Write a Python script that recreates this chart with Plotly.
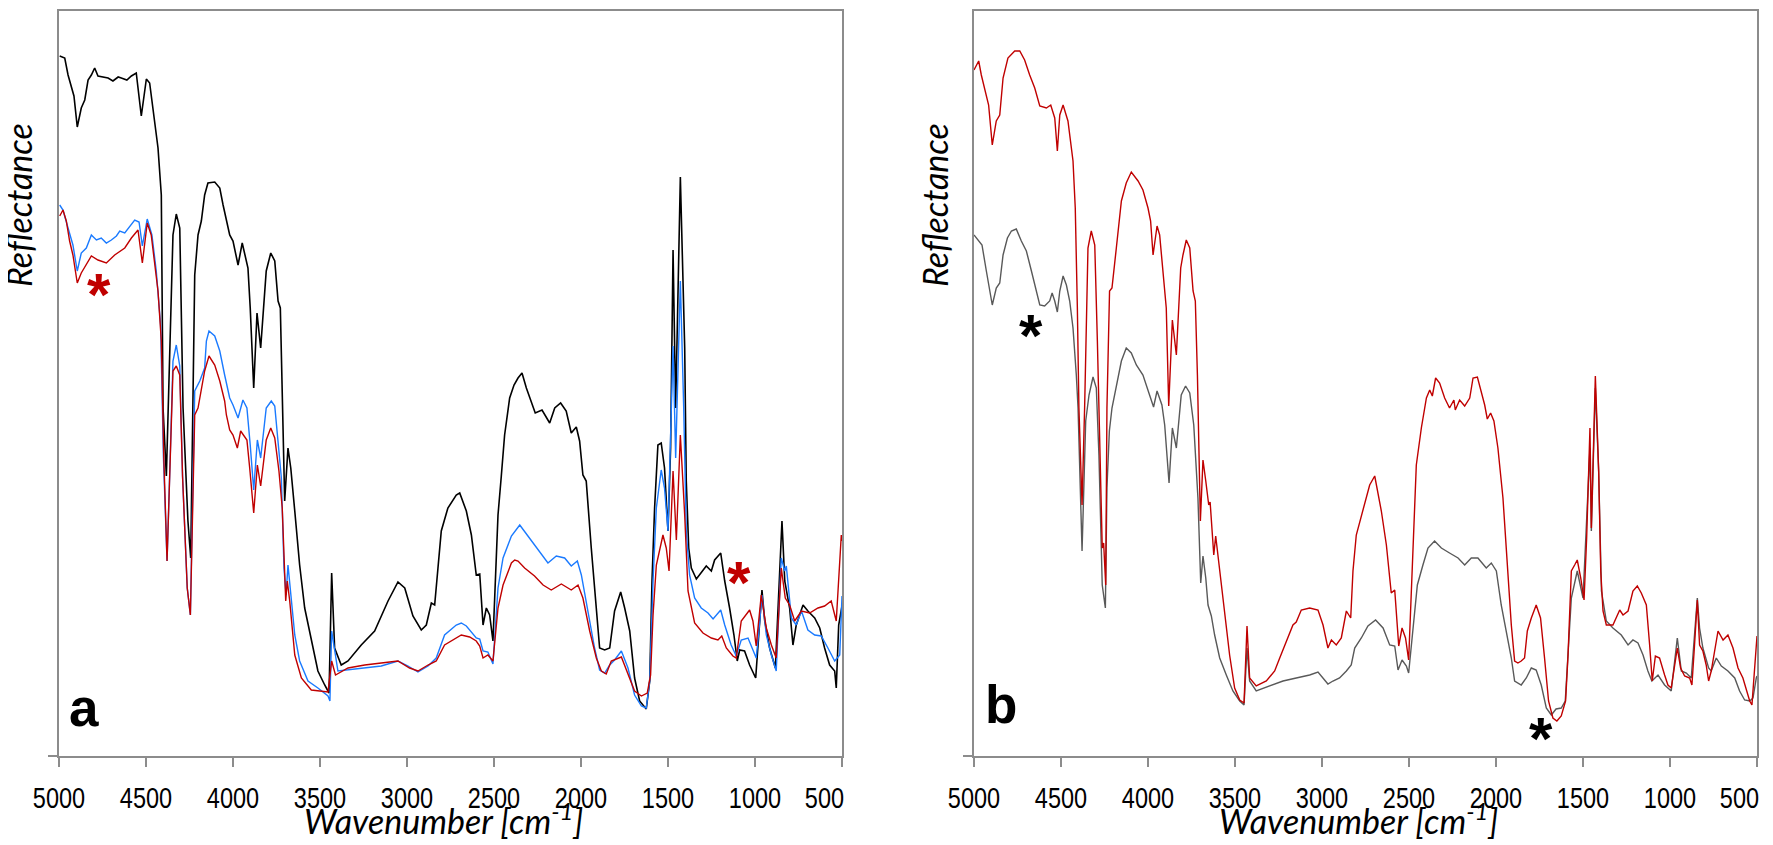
import plotly.graph_objects as go

# ---------------- data (wavenumber cm-1, reflectance arbitrary units) ----------------
a_black_wn = [4996,4967,4948,4929,4914,4895,4872,4852,4833,4814,4795,4776,4747,4718,4690,4660,4642,4610,4584,4556,
              4527,4498,4479,4450,4431,4412,4402,4383,4364,4345,4326,4306,4287,4259,4243,4230,4220,4201,4182,4163,
              4144,4105,4076,4057,4019,4000,3971,3947,3914,3901,3881,3862,3841,3809,3783,3760,3741,3728,3713,3703,
              3684,3668,3645,3617,3588,3550,3512,3473,3448,3433,3416,3378,3339,3263,3186,3109,3052,3013,2966,2918,
              2889,2860,2841,2822,2803,2765,2717,2697,2659,2630,2602,2582,2563,2544,2525,2506,2477,2458,2439,2410,
              2385,2362,2339,2314,2286,2263,2224,2180,2151,2117,2085,2056,2027,2008,1989,1970,1941,1912,1893,1864,
              1835,1807,1772,1749,1720,1692,1663,1625,1605,1592,1577,1558,1539,1520,1500,1485,1471,1456,1429,1404,
              1395,1381,1366,1337,1299,1280,1251,1232,1197,1174,1146,1121,1102,1088,1060,1031,996,973,960,944,
              916,883,864,845,829,801,782,763,724,696,657,628,600,571,542,533,519,508,500]
a_black_r = [70.0,69.8,68.1,66.8,66.0,62.9,64.8,65.6,67.6,68.1,68.8,68.0,67.9,67.8,67.5,67.9,67.8,67.6,68.0,68.3,
             64.0,67.7,67.3,63.1,60.8,56.1,34.8,28.0,41.5,52.1,54.2,52.8,34.8,23.5,19.8,38.8,48.1,52.1,53.5,56.1,
             57.3,57.4,56.8,55.1,52.1,51.5,49.1,51.3,48.8,44.8,36.8,44.3,40.8,48.5,50.3,49.5,45.5,44.8,34.8,25.5,
             30.8,28.8,24.5,19.1,14.8,11.5,8.5,7.1,6.3,18.3,10.8,9.1,9.5,11.1,12.5,15.5,17.4,16.8,14.0,12.6,
             13.1,15.3,15.1,18.8,22.5,24.8,26.1,26.3,24.5,22.1,18.1,18.2,13.1,14.8,14.1,11.5,24.1,28.0,32.1,35.8,
             37.1,37.8,38.3,36.8,35.5,34.3,34.6,33.3,34.8,35.3,34.5,32.3,32.9,31.5,28.1,27.5,20.8,14.8,10.8,10.6,
             10.8,14.5,16.4,14.8,12.5,7.8,5.5,4.7,7.5,17.5,24.8,31.1,31.3,28.8,22.5,30.8,50.6,34.8,57.9,40.8,
             27.5,20.8,18.8,17.7,18.5,19.0,18.5,19.6,20.3,17.5,14.8,12.1,9.5,10.6,10.5,9.1,7.8,13.1,16.6,13.5,
             10.8,8.8,16.8,23.5,17.5,14.8,11.1,13.1,15.1,14.5,13.8,12.8,10.8,9.1,8.5,6.8,13.1,14.1,15.0]

a_blue_wn = [4996,4977,4948,4920,4895,4872,4843,4814,4785,4757,4728,4699,4670,4651,4622,4594,4565,4540,4521,4493,
             4466,4441,4416,4400,4379,4364,4345,4326,4306,4290,4263,4245,4232,4220,4191,4163,4153,4138,4105,4076,
             4048,4019,4000,3971,3943,3920,3901,3881,3860,3841,3809,3780,3760,3741,3722,3707,3695,3684,3668,3645,
             3617,3569,3512,3454,3443,3433,3397,3339,3243,3148,3052,2994,2937,2879,2832,2784,2717,2688,2659,2602,
             2582,2563,2535,2506,2477,2448,2400,2352,2305,2247,2190,2142,2094,2056,2021,1998,1960,1922,1893,1864,
             1835,1807,1768,1730,1692,1653,1625,1605,1586,1567,1539,1520,1500,1471,1456,1429,1410,1395,1376,1347,
             1309,1270,1241,1197,1174,1137,1108,1079,1040,1012,993,973,960,935,906,878,849,829,820,791,
             763,733,696,657,619,581,542,513,500]
a_blue_r = [55.1,54.6,52.8,51.1,48.5,50.3,50.8,52.1,51.6,51.8,51.3,51.6,52.0,52.5,52.3,53.0,53.6,53.4,51.0,53.7,
            52.1,48.5,43.1,30.0,19.5,28.0,39.5,41.1,39.0,28.0,16.8,14.1,25.0,36.5,37.5,38.8,41.5,42.5,42.0,40.5,
            38.1,35.8,35.1,33.8,35.6,34.8,31.1,26.6,31.6,29.8,34.8,35.5,35.0,31.5,27.8,18.8,16.1,19.1,16.1,12.1,
            9.5,7.5,6.8,6.0,5.5,12.5,8.5,8.6,8.8,9.0,9.5,9.0,8.4,9.0,9.8,12.1,13.1,13.3,13.0,11.8,
            11.7,10.5,10.4,9.2,16.8,19.8,22.0,23.1,22.0,20.6,19.3,20.0,19.8,19.0,19.5,18.1,14.5,10.8,8.6,8.3,
            9.1,9.6,10.5,8.8,6.1,5.0,4.8,7.5,17.5,24.8,28.6,26.8,22.5,41.0,29.8,47.5,35.0,22.5,18.1,15.8,
            14.8,14.3,13.7,14.6,13.1,11.1,10.0,11.6,11.8,10.5,9.8,13.4,16.1,12.1,10.1,8.5,19.8,18.5,19.0,13.8,
            13.1,14.5,12.6,12.1,12.0,10.8,9.5,10.1,16.0]

a_red_wn = [4996,4977,4958,4939,4920,4895,4872,4843,4814,4776,4728,4680,4622,4584,4546,4521,4493,4470,4450,4431,
            4412,4398,4379,4364,4345,4326,4306,4290,4263,4245,4232,4220,4201,4182,4163,4138,4105,4076,4048,4038,
            4019,4000,3975,3956,3920,3904,3881,3860,3841,3809,3783,3760,3736,3717,3703,3697,3688,3674,3645,3607,
            3550,3493,3454,3433,3411,3339,3243,3148,3052,2985,2937,2879,2832,2784,2717,2688,2640,2602,2582,2563,
            2535,2506,2477,2448,2400,2381,2362,2324,2267,2218,2171,2113,2056,2017,1989,1950,1912,1883,1855,1826,
            1768,1730,1692,1653,1619,1600,1586,1567,1529,1510,1494,1471,1452,1429,1404,1385,1347,1299,1251,1213,
            1191,1165,1127,1108,1079,1031,1012,993,964,935,906,878,849,826,801,772,733,686,638,600,
            562,533,504,500]
a_red_r = [54.0,54.6,53.5,51.5,50.1,47.3,48.3,49.1,50.0,49.6,49.3,50.1,50.8,51.8,52.6,49.3,53.3,52.1,49.5,46.5,
           41.5,30.0,19.5,28.0,38.5,39.0,38.1,28.0,16.8,14.1,24.0,34.1,34.8,36.8,38.5,40.0,39.1,37.5,35.5,34.1,
           32.6,32.1,30.8,32.5,31.6,28.8,24.3,29.1,27.0,31.6,32.8,31.8,28.5,24.8,18.1,15.5,17.5,15.5,10.1,7.8,
           6.6,6.5,6.4,9.5,8.1,8.8,9.1,9.3,9.5,8.8,8.5,9.1,9.5,11.1,11.8,12.1,11.9,11.5,11.0,9.8,
           10.1,9.5,14.8,17.1,19.3,19.6,19.5,18.8,18.0,17.1,16.6,17.2,16.6,17.1,15.8,12.5,9.8,8.5,8.2,9.5,
           9.9,8.1,6.5,6.0,6.3,8.1,14.1,19.1,22.1,20.8,18.5,28.5,21.6,32.1,24.1,16.5,13.3,12.3,11.8,11.6,
           12.0,10.8,10.0,9.8,13.5,14.6,13.5,11.0,16.1,12.8,11.1,9.8,18.8,15.8,15.1,13.5,14.5,14.3,14.8,15.0,
           15.5,13.5,22.1,21.5]

b_red_wn = [5000,4973,4958,4929,4916,4895,4872,4852,4833,4805,4766,4737,4709,4680,4651,4622,4584,4559,4536,4521,
            4507,4488,4460,4431,4418,4406,4397,4379,4364,4345,4326,4306,4291,4263,4255,4243,4236,4221,4207,4182,
            4153,4125,4096,4057,4029,4000,3985,3971,3948,3933,3914,3895,3881,3860,3837,3812,3799,3780,3760,3741,
            3728,3716,3699,3684,3668,3651,3643,3622,3611,3588,3559,3531,3502,3473,3448,3431,3416,3378,3320,3272,
            3243,3205,3167,3148,3119,3071,3023,2994,2966,2946,2918,2889,2860,2835,2822,2803,2765,2726,2697,2659,
            2630,2602,2582,2559,2540,2520,2502,2477,2458,2429,2400,2381,2366,2347,2324,2295,2267,2242,2234,2209,
            2180,2151,2132,2107,2084,2065,2050,2031,2012,1989,1960,1935,1912,1893,1874,1855,1836,1820,1797,1769,
            1744,1721,1698,1673,1650,1625,1600,1586,1567,1548,1533,1513,1494,1479,1460,1452,1429,1410,1398,1385,
            1366,1328,1309,1289,1270,1241,1213,1188,1165,1136,1117,1102,1084,1060,1031,1012,993,973,958,939,
            916,887,874,859,843,830,811,792,778,763,743,724,695,667,638,609,581,561,542,529,
            513,504,500]
b_red_r = [68.6,69.5,68.1,65.8,65.1,61.1,63.5,64.1,67.8,69.8,70.5,70.5,69.6,68.1,66.8,65.0,64.8,65.1,63.8,60.5,
           64.1,65.1,63.5,59.5,54.8,44.8,34.8,25.1,35.0,50.8,52.5,51.1,41.5,20.8,21.3,17.1,34.8,46.5,46.8,50.8,
           55.5,57.3,58.4,57.5,56.6,54.8,53.5,50.1,53.0,52.1,48.8,44.8,35.0,43.6,40.1,48.8,50.1,51.6,50.8,46.5,
           45.5,38.1,23.5,29.6,27.5,25.1,25.4,20.1,22.0,18.5,14.5,10.1,6.8,5.6,5.3,13.0,7.8,7.0,7.5,8.5,
           9.8,11.5,13.1,13.4,14.6,14.8,14.6,13.1,10.8,11.6,11.1,11.8,14.5,13.8,18.5,22.1,24.5,27.1,28.0,24.5,
           21.1,16.3,16.6,11.0,12.8,11.8,9.6,20.1,29.1,32.8,35.8,36.6,36.0,37.8,37.3,35.8,34.8,35.6,34.6,35.6,
           35.0,35.8,37.8,37.9,36.5,35.1,33.7,34.3,33.5,30.8,25.8,19.1,13.1,9.5,9.3,9.5,9.8,12.5,13.8,15.1,
           13.8,9.8,5.5,3.8,3.5,4.0,5.5,10.1,18.5,19.1,19.6,17.8,15.6,21.8,32.8,22.8,38.0,28.5,18.5,14.5,
           13.1,13.1,13.8,14.6,14.1,14.5,16.5,17.0,16.3,15.1,11.1,7.5,10.0,9.8,8.1,7.1,6.8,9.1,10.8,8.8,
           8.0,7.8,7.1,11.1,15.6,11.1,10.5,9.1,7.5,8.5,10.5,12.5,11.6,12.1,10.8,8.8,7.8,6.5,5.5,5.1,
           9.1,11.3,12.0]

b_grey_wn = [5000,4977,4954,4929,4910,4895,4872,4852,4833,4808,4785,4757,4728,4699,4670,4642,4622,4594,4565,4551,
             4536,4521,4507,4488,4469,4450,4431,4412,4402,4379,4358,4339,4316,4297,4282,4263,4245,4236,4222,4207,
             4182,4153,4125,4096,4067,4029,3991,3968,3948,3920,3904,3879,3860,3837,3809,3784,3760,3737,3713,3697,
             3684,3668,3655,3636,3617,3588,3550,3512,3473,3448,3431,3416,3378,3301,3224,3148,3071,3023,2994,2966,
             2937,2899,2860,2832,2812,2774,2736,2692,2649,2611,2582,2563,2540,2515,2502,2477,2452,2420,2391,2353,
             2314,2267,2218,2180,2142,2104,2056,2027,1998,1970,1941,1912,1893,1855,1826,1797,1769,1740,1711,1682,
             1655,1625,1602,1586,1567,1533,1500,1460,1452,1429,1410,1394,1366,1328,1280,1241,1213,1184,1155,1127,
             1104,1069,1031,993,958,935,906,878,859,843,830,811,778,763,734,705,667,628,600,571,
             542,523,504,500]
b_grey_r = [52.1,51.6,51.1,48.5,46.5,45.1,46.8,47.3,50.1,51.8,52.5,52.7,51.5,50.5,48.5,46.5,45.1,45.0,45.5,46.3,
            45.5,44.4,46.5,48.0,47.1,45.5,42.8,38.1,34.8,20.5,33.5,36.1,37.9,36.8,30.1,17.1,14.8,26.8,32.5,34.8,
            37.1,39.5,40.8,40.3,39.1,38.1,36.1,34.9,36.5,35.1,33.1,27.3,32.8,30.8,36.1,37.0,36.3,33.1,25.8,17.3,
            20.0,17.8,15.1,14.0,12.1,9.8,8.1,6.5,5.5,5.1,10.8,7.5,6.5,7.0,7.5,7.8,8.1,8.4,7.8,7.2,
            7.5,7.8,8.5,9.1,10.8,11.8,13.0,13.6,12.8,11.1,11.0,8.6,9.6,9.0,8.3,13.1,17.1,19.1,20.8,21.5,
            20.8,20.3,19.8,19.1,19.8,19.8,18.8,19.3,18.5,15.1,12.5,9.8,7.5,7.1,7.8,8.8,8.6,7.1,4.8,4.1,
            4.7,4.8,5.5,10.1,15.8,18.5,15.8,30.8,22.5,36.8,28.5,16.5,13.5,12.8,12.1,11.1,11.6,11.3,10.1,8.5,
            7.5,8.1,7.1,6.5,11.8,8.5,8.3,7.8,11.8,15.8,12.8,10.8,8.8,8.5,9.8,9.0,8.5,7.8,6.5,5.6,
            5.5,5.8,7.8,8.0]

x_tick_vals = [5000, 4500, 4000, 3500, 3000, 2500, 2000, 1500, 1000, 500]
x_tick_text = ["5000", "4500", "4000", "3500", "3000", "2500", "2000", "1500", "1000", "500"]

# ---------------- figure ----------------
W, H = 1773, 845
RED = "#c00000"
BLUE = "#1a7aff"
GREY = "#595959"
FRAME = "#8c8c8c"

fig = go.Figure()
fig.add_trace(go.Scatter(x=a_black_wn, y=a_black_r, mode="lines", line=dict(color="black", width=1.6),
                         xaxis="x", yaxis="y", showlegend=False, hoverinfo="skip"))
fig.add_trace(go.Scatter(x=a_blue_wn, y=a_blue_r, mode="lines", line=dict(color=BLUE, width=1.4),
                         xaxis="x", yaxis="y", showlegend=False, hoverinfo="skip"))
fig.add_trace(go.Scatter(x=a_red_wn, y=a_red_r, mode="lines", line=dict(color=RED, width=1.4),
                         xaxis="x", yaxis="y", showlegend=False, hoverinfo="skip"))
fig.add_trace(go.Scatter(x=b_grey_wn, y=b_grey_r, mode="lines", line=dict(color=GREY, width=1.4),
                         xaxis="x2", yaxis="y2", showlegend=False, hoverinfo="skip"))
fig.add_trace(go.Scatter(x=b_red_wn, y=b_red_r, mode="lines", line=dict(color=RED, width=1.4),
                         xaxis="x2", yaxis="y2", showlegend=False, hoverinfo="skip"))

ydom = [(H - 748) / H, (H - 3) / H]
xdom1 = [51 / W, 834 / W]
xdom2 = [966 / W, 1749 / W]

tickfont = dict(family="Liberation Sans, Arial, sans-serif", size=29, color="black")

def xaxis_cfg(dom, anchor):
    return dict(domain=dom, anchor=anchor, range=[5000, 500], tickmode="array",
                tickvals=x_tick_vals, ticktext=x_tick_text, ticks="outside", ticklen=9,
                tickwidth=1.5, tickcolor=FRAME, showline=True, linecolor=FRAME, linewidth=2,
                mirror=True, showgrid=False, zeroline=False, tickfont=tickfont, automargin=False,
                ticklabeloverflow="allow", ticklabelstandoff=6)

def yaxis_cfg(anchor):
    return dict(domain=ydom, anchor=anchor, range=[0, 74.5], tickmode="array", tickvals=[0],
                ticks="outside", ticklen=9, tickwidth=1.5, tickcolor=FRAME, showticklabels=False,
                showline=True, linecolor=FRAME, linewidth=2, mirror=True, showgrid=False,
                zeroline=False, automargin=False)

title_font = dict(family="Lato, Open Sans, sans-serif", size=34, color="black")
letter_font = dict(family="Liberation Sans, Arial, sans-serif", size=53, color="black")
star_font_red = dict(family="Liberation Sans, Arial, sans-serif", size=60, color=RED)
star_font_blk = dict(family="Liberation Sans, Arial, sans-serif", size=60, color="black")

def px(x):
    return x / W

def py(y):
    return (H - y) / H

annotations = [
    dict(text="<i>Reflectance</i>", x=px(10), y=py(197), xref="paper", yref="paper", textangle=-90,
         showarrow=False, font=title_font, xanchor="center", yanchor="middle"),
    dict(text="<i>Reflectance</i>", x=px(926), y=py(197), xref="paper", yref="paper", textangle=-90,
         showarrow=False, font=title_font, xanchor="center", yanchor="middle"),
    dict(text="<i>Wavenumber [cm<sup>-1</sup>]</i>", x=px(435), y=py(811), xref="paper", yref="paper",
         showarrow=False, font=title_font, xanchor="center", yanchor="middle"),
    dict(text="<i>Wavenumber [cm<sup>-1</sup>]</i>", x=px(1350), y=py(811), xref="paper", yref="paper",
         showarrow=False, font=title_font, xanchor="center", yanchor="middle"),
    dict(text="<b>a</b>", x=px(76), y=py(699), xref="paper", yref="paper", showarrow=False,
         font=letter_font, xanchor="center", yanchor="middle"),
    dict(text="<b>b</b>", x=px(993), y=py(696), xref="paper", yref="paper", showarrow=False,
         font=letter_font, xanchor="center", yanchor="middle"),
    dict(text="<b>*</b>", x=px(91), y=py(286), xref="paper", yref="paper", showarrow=False,
         font=star_font_red, xanchor="center", yanchor="middle"),
    dict(text="<b>*</b>", x=px(731), y=py(575), xref="paper", yref="paper", showarrow=False,
         font=star_font_red, xanchor="center", yanchor="middle"),
    dict(text="<b>*</b>", x=px(1023), y=py(328), xref="paper", yref="paper", showarrow=False,
         font=star_font_blk, xanchor="center", yanchor="middle"),
    dict(text="<b>*</b>", x=px(1533), y=py(730), xref="paper", yref="paper", showarrow=False,
         font=star_font_blk, xanchor="center", yanchor="middle"),
]

fig.update_layout(
    width=W, height=H, margin=dict(l=0, r=0, t=0, b=0, autoexpand=False),
    paper_bgcolor="white", plot_bgcolor="white",
    xaxis=xaxis_cfg(xdom1, "y"), yaxis=yaxis_cfg("x"),
    xaxis2=xaxis_cfg(xdom2, "y2"), yaxis2=yaxis_cfg("x2"),
    annotations=annotations, showlegend=False,
)

# The reference tick labels use a condensed face; compress the real text horizontally,
# and keep the last label ("500") inside the frame as in the reference.
post = """
var gd = document.getElementById('{plot_id}');
gd.querySelectorAll('g.xtick text, g.x2tick text').forEach(function(t){
  var w = t.getComputedTextLength();
  t.setAttribute('textLength', (w * 0.81).toFixed(1));
  t.setAttribute('lengthAdjust', 'spacingAndGlyphs');
  if (t.textContent === '500') {
    t.setAttribute('text-anchor', 'end');
    t.setAttribute('x', '2');
  }
});
"""

fig.write_html("out.html", post_script=post)
